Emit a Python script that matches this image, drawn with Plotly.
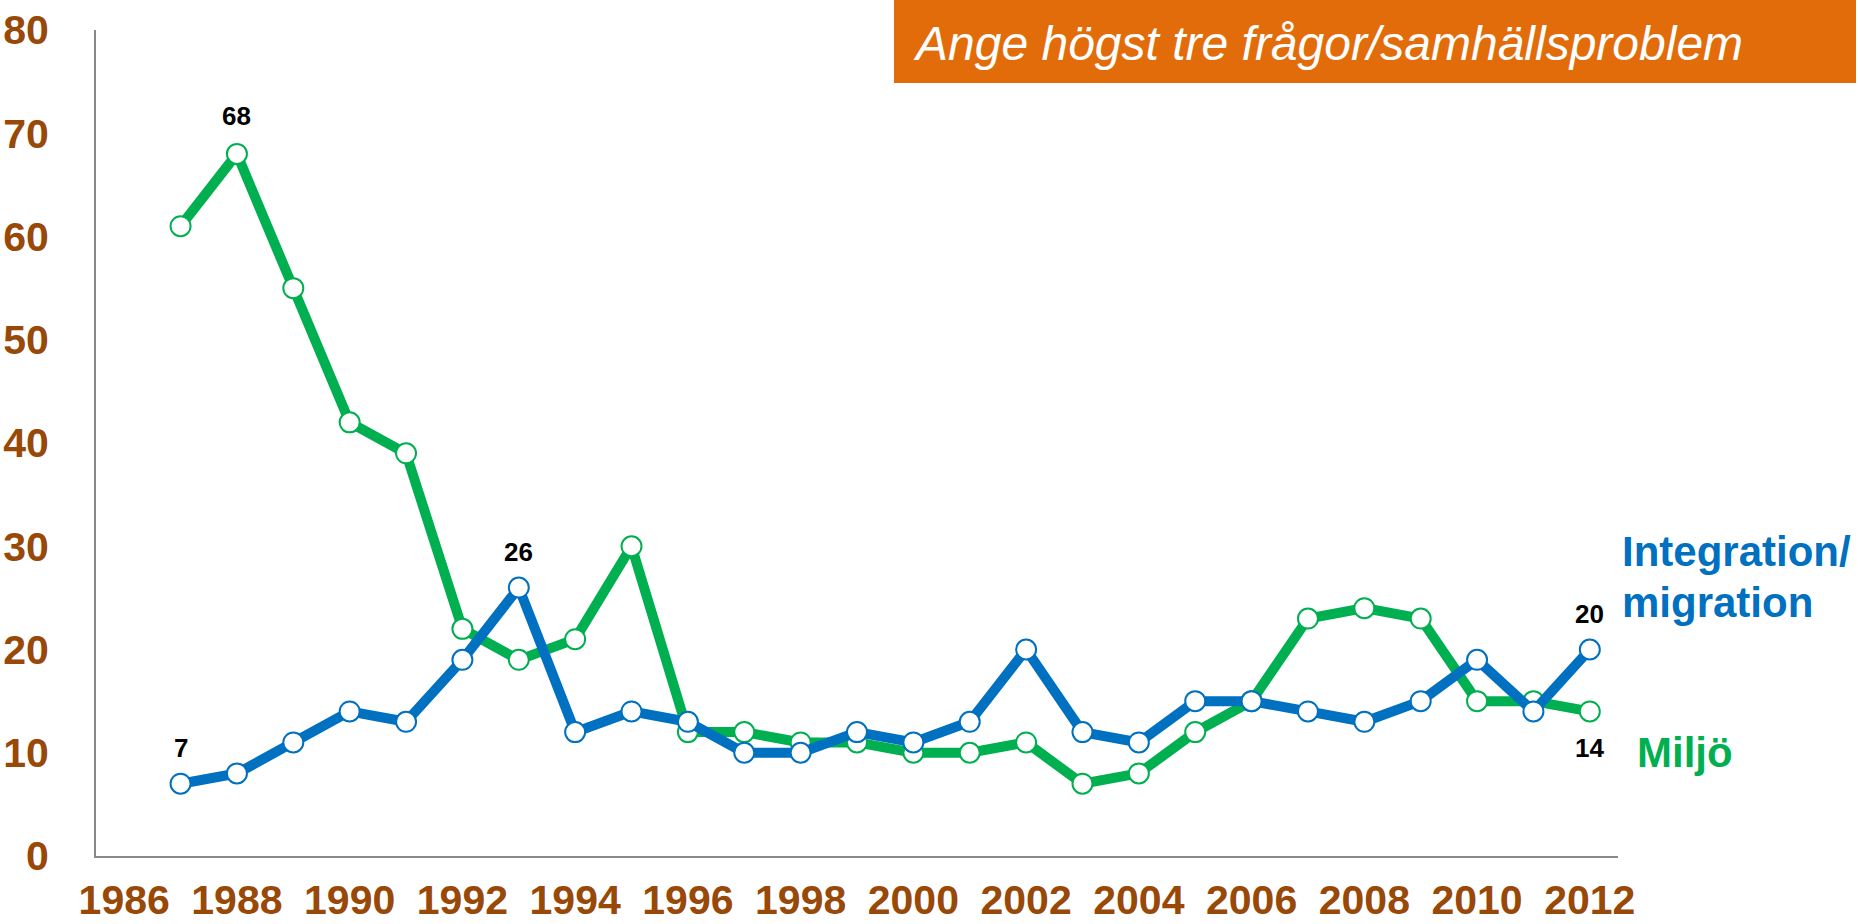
import plotly.graph_objects as go

years = list(range(1987, 2013))
integration = [7, 8, 11, 14, 13, 19, 26, 12, 14, 13, 10, 10, 12, 11, 13, 20, 12, 11, 15, 15, 14, 13, 15, 19, 14, 20]
miljo = [61, 68, 55, 42, 39, 22, 19, 21, 30, 12, 12, 11, 11, 10, 10, 11, 7, 8, 12, 15, 23, 24, 23, 15, 15, 14]
x_ticks = list(range(1986, 2013, 2))
y_ticks = list(range(0, 81, 10))

label_blue_years = [1987, 1993, 2012]
label_green_top_years = [1988]
label_green_bottom_years = [2012]

title_text = "Ange högst tre frågor/samhällsproblem"

BLUE = "#0070C0"
GREEN = "#00B050"
BROWN = "#984807"
ORANGE = "#E36C0A"
FONT = "Liberation Sans, Arial, sans-serif"

W, H = 1858, 924
L, R, T, B = 96, 240, 30, 68
pw = W - L - R
ph = H - T - B


def px_x(p):
    return (p - L) / pw


def px_y(p):
    return (H - B - p) / ph


fig = go.Figure()

fig.add_trace(go.Scatter(
    x=years, y=miljo, mode="lines+markers", name="Miljö",
    line=dict(color=GREEN, width=10),
    marker=dict(size=20, color="white", line=dict(color=GREEN, width=2)),
))
fig.add_trace(go.Scatter(
    x=years, y=integration, mode="lines+markers", name="Integration/migration",
    line=dict(color=BLUE, width=10),
    marker=dict(size=20, color="white", line=dict(color=BLUE, width=2)),
))

annotations = []
lab_font = dict(family=FONT, size=26, color="black", weight="bold")
for yr in label_blue_years:
    v = integration[years.index(yr)]
    annotations.append(dict(x=yr, y=v, xref="x", yref="y", text=str(v), showarrow=False,
                            yshift=36, font=lab_font))
for yr in label_green_top_years:
    v = miljo[years.index(yr)]
    annotations.append(dict(x=yr, y=v, xref="x", yref="y", text=str(v), showarrow=False,
                            yshift=38, font=lab_font))
for yr in label_green_bottom_years:
    v = miljo[years.index(yr)]
    annotations.append(dict(x=yr, y=v, xref="x", yref="y", text=str(v), showarrow=False,
                            yshift=-37, font=lab_font))

annotations.append(dict(x=px_x(1623), y=px_y(551), xref="paper", yref="paper", text="Integration/",
                        showarrow=False, xanchor="left", yanchor="middle", xshift=-3,
                        font=dict(family=FONT, size=42, color=BLUE, weight="bold")))
annotations.append(dict(x=px_x(1623), y=px_y(602), xref="paper", yref="paper", text="migration",
                        showarrow=False, xanchor="left", yanchor="middle", xshift=-3,
                        font=dict(family=FONT, size=42, color=BLUE, weight="bold")))
annotations.append(dict(x=px_x(1638), y=px_y(752), xref="paper", yref="paper", text="Miljö",
                        showarrow=False, xanchor="left", yanchor="middle", xshift=-3,
                        font=dict(family=FONT, size=42, color=GREEN, weight="bold")))
annotations.append(dict(x=px_x(914), y=px_y(44), xref="paper", yref="paper", text=title_text,
                        showarrow=False, xanchor="left", yanchor="middle", xshift=-3,
                        font=dict(family=FONT, size=48, color="white", style="italic")))

fig.update_layout(
    width=W, height=H,
    margin=dict(l=L, r=R, t=T, b=B),
    paper_bgcolor="white", plot_bgcolor="white",
    showlegend=False,
    annotations=annotations,
    shapes=[dict(type="rect", xref="paper", yref="paper",
                 x0=px_x(894), x1=px_x(1856), y0=px_y(83), y1=px_y(0),
                 fillcolor=ORANGE, line=dict(width=0), layer="below")],
    xaxis=dict(range=[1985.5, 2012.5], tickvals=x_ticks, ticktext=[str(v) for v in x_ticks],
               showgrid=False, zeroline=False, showline=True, linecolor="#898989", linewidth=2,
               ticks="", ticklabelstandoff=7, automargin=False,
               tickfont=dict(family=FONT, size=41, color=BROWN, weight="bold")),
    yaxis=dict(range=[0, 80], tickvals=y_ticks, showgrid=False, zeroline=False,
               showline=True, linecolor="#898989", linewidth=2, ticks="", ticklabelstandoff=37,
               automargin=False,
               tickfont=dict(family=FONT, size=41, color=BROWN, weight="bold")),
)

fig.write_html("out.html", config={"displayModeBar": False},
               post_script="document.body.style.margin='0px';")
